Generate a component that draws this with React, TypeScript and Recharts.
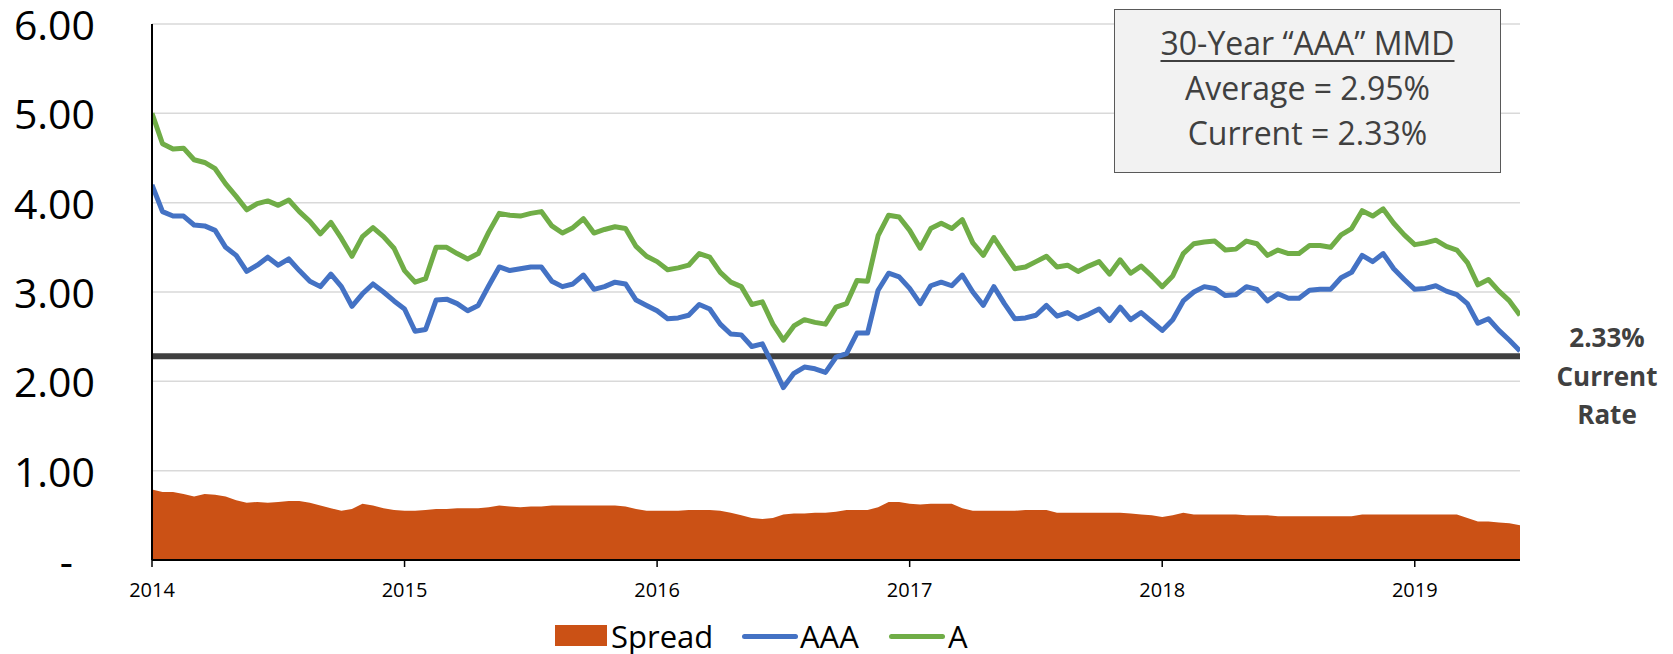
import React from "react";
import {
  ComposedChart,
  Area,
  Line,
  XAxis,
  YAxis,
  CartesianGrid,
  ReferenceLine,
} from "recharts";

// semi-monthly readings, Jan 2014 -> early Jun 2019
const aaaYields = [
  4.2, 3.9, 3.85, 3.85, 3.75, 3.74, 3.69, 3.5, 3.41, 3.23, 3.3, 3.39, 3.3, 3.37, 3.24, 3.12, 3.06, 3.2, 3.06, 2.84,
  2.98, 3.09, 3.0, 2.9, 2.81, 2.56, 2.58, 2.91, 2.92, 2.87, 2.79, 2.85, 3.07, 3.28, 3.24, 3.26, 3.28, 3.28, 3.12, 3.06,
  3.09, 3.19, 3.03, 3.06, 3.11, 3.09, 2.91, 2.85, 2.79, 2.7, 2.71, 2.74, 2.86, 2.81, 2.64, 2.53, 2.52, 2.39, 2.42, 2.18,
  1.93, 2.09, 2.16, 2.14, 2.1, 2.27, 2.31, 2.54, 2.54, 3.02, 3.21, 3.17, 3.04, 2.87, 3.07, 3.11, 3.07, 3.19, 3.0, 2.85,
  3.06, 2.87, 2.7, 2.71, 2.74, 2.85, 2.73, 2.77, 2.7, 2.75, 2.81, 2.68, 2.83, 2.69, 2.77, 2.67, 2.57, 2.69, 2.9, 3.0,
  3.06, 3.04, 2.96, 2.97, 3.06, 3.03, 2.9, 2.98, 2.93, 2.93, 3.02, 3.03, 3.03, 3.16, 3.22, 3.41, 3.34, 3.43, 3.26, 3.14,
  3.03, 3.04, 3.07, 3.01, 2.97, 2.87, 2.65, 2.7, 2.57, 2.46, 2.34,
];

const aYields = [
  5.0, 4.66, 4.6, 4.61, 4.48, 4.45, 4.38, 4.21, 4.07, 3.92, 3.99, 4.02, 3.97, 4.03, 3.9, 3.79, 3.65, 3.78, 3.6, 3.4,
  3.62, 3.72, 3.62, 3.49, 3.24, 3.11, 3.15, 3.5, 3.5, 3.43, 3.37, 3.43, 3.67, 3.88, 3.86, 3.85, 3.88, 3.9, 3.74, 3.66,
  3.72, 3.82, 3.66, 3.7, 3.73, 3.71, 3.51, 3.4, 3.34, 3.25, 3.27, 3.3, 3.43, 3.39, 3.22, 3.11, 3.06, 2.86, 2.89, 2.64,
  2.46, 2.62, 2.69, 2.66, 2.64, 2.83, 2.87, 3.13, 3.12, 3.63, 3.86, 3.84, 3.69, 3.49, 3.71, 3.77, 3.71, 3.81, 3.55, 3.41,
  3.61, 3.43, 3.26, 3.28, 3.34, 3.4, 3.28, 3.3, 3.23, 3.29, 3.34, 3.2, 3.36, 3.21, 3.29, 3.18, 3.06, 3.18, 3.43, 3.54,
  3.56, 3.57, 3.47, 3.48, 3.57, 3.54, 3.41, 3.47, 3.43, 3.43, 3.52, 3.52, 3.5, 3.64, 3.71, 3.91, 3.85, 3.93, 3.77, 3.64,
  3.53, 3.55, 3.58, 3.51, 3.47, 3.33, 3.08, 3.14, 3.01, 2.9, 2.74,
];

const spreadValues = [
  0.79, 0.76, 0.76, 0.74, 0.71, 0.74, 0.73, 0.71, 0.67, 0.64, 0.65, 0.64, 0.65, 0.66, 0.66, 0.64, 0.61, 0.58, 0.55, 0.57,
  0.63, 0.61, 0.58, 0.56, 0.55, 0.55, 0.56, 0.57, 0.57, 0.58, 0.58, 0.58, 0.59, 0.61, 0.6, 0.59, 0.6, 0.6, 0.61, 0.61,
  0.61, 0.61, 0.61, 0.61, 0.61, 0.6, 0.57, 0.55, 0.55, 0.55, 0.55, 0.56, 0.56, 0.56, 0.55, 0.53, 0.5, 0.47, 0.46, 0.47,
  0.51, 0.52, 0.52, 0.53, 0.53, 0.54, 0.56, 0.56, 0.56, 0.59, 0.65, 0.65, 0.63, 0.62, 0.63, 0.63, 0.63, 0.58, 0.55, 0.55,
  0.55, 0.55, 0.55, 0.56, 0.56, 0.56, 0.53, 0.53, 0.53, 0.53, 0.53, 0.53, 0.53, 0.52, 0.51, 0.5, 0.48, 0.5, 0.53, 0.51,
  0.51, 0.51, 0.51, 0.51, 0.5, 0.5, 0.5, 0.49, 0.49, 0.49, 0.49, 0.49, 0.49, 0.49, 0.49, 0.51, 0.51, 0.51, 0.51, 0.51,
  0.51, 0.51, 0.51, 0.51, 0.51, 0.47, 0.43, 0.43, 0.42, 0.41, 0.39,
];

const yearTicks = [2014, 2015, 2016, 2017, 2018, 2019];
const rateTicks = [0, 1, 2, 3, 4, 5, 6];
const currentRateLine = 2.28;

const startYear = 2014;
const stepsPerYear = 24;

const data = aaaYields.map((v, i) => ({
  t: startYear + i / stepsPerYear,
  aaa: v,
  a: aYields[i],
  spread: spreadValues[i],
}));
const endT = data[data.length - 1].t;

const FONT = "'Open Sans', sans-serif";

const YTick = (props: any) => {
  const { x, y, payload } = props;
  const isZero = payload.value === 0;
  return (
    <text
      x={isZero ? x - 22 : x}
      y={y}
      textAnchor="end"
      dominantBaseline="central"
      fontSize={41}
      fontFamily={FONT}
      fill="#000"
    >
      {isZero ? "-" : payload.value.toFixed(2)}
    </text>
  );
};

export default function App() {
  return (
    <div
      style={{
        position: "absolute",
        left: 0,
        top: 0,
        width: 1673,
        height: 654,
        background: "#fff",
        fontFamily: FONT,
      }}
    >
      <ComposedChart
        width={1673}
        height={654}
        data={data}
        margin={{ top: 24, right: 153, bottom: 0, left: 0 }}
        style={{ overflow: "visible" }}
      >
        <CartesianGrid vertical={false} stroke="#d9d9d9" strokeWidth={1.5} />
        <XAxis
          type="number"
          dataKey="t"
          domain={[startYear, endT]}
          ticks={yearTicks}
          tickFormatter={(v) => String(v)}
          height={94}
          axisLine={{ stroke: "#000", strokeWidth: 2 }}
          tickLine={{ stroke: "#000", strokeWidth: 1.5 }}
          tickSize={7}
          tickMargin={16}
          tick={{ fontSize: 20, fill: "#000", fontFamily: FONT }}
          allowDataOverflow
        />
        <YAxis
          domain={[0, 6]}
          ticks={rateTicks}
          width={152}
          axisLine={{ stroke: "#000", strokeWidth: 2 }}
          tickLine={false}
          tickSize={0}
          tickMargin={57}
          tick={<YTick />}
        />
        <Area
          type="linear"
          dataKey="spread"
          name="Spread"
          fill="#cb5115"
          fillOpacity={1}
          stroke="none"
          isAnimationActive={false}
        />
        <ReferenceLine y={currentRateLine} stroke="#404040" strokeWidth={6} />
        <Line
          type="linear"
          dataKey="aaa"
          name="AAA"
          stroke="#4472c4"
          strokeWidth={5}
          strokeLinejoin="round"
          dot={false}
          isAnimationActive={false}
        />
        <Line
          type="linear"
          dataKey="a"
          name="A"
          stroke="#70ad47"
          strokeWidth={5}
          strokeLinejoin="round"
          dot={false}
          isAnimationActive={false}
        />
      </ComposedChart>

      {/* summary box */}
      <div
        style={{
          position: "absolute",
          left: 1114,
          top: 9,
          width: 385,
          height: 152,
          background: "#f2f2f2",
          border: "1.5px solid #595959",
          color: "#404040",
          fontSize: 32,
          lineHeight: "45px",
          textAlign: "center",
          paddingTop: 10,
          boxSizing: "content-box",
        }}
      >
        <div style={{ textDecoration: "underline", textDecorationThickness: 2, textUnderlineOffset: 5 }}>
          30-Year “AAA” MMD
        </div>
        <div>Average = 2.95%</div>
        <div>Current = 2.33%</div>
      </div>

      {/* current rate note */}
      <div
        style={{
          position: "absolute",
          left: 1547,
          top: 318,
          width: 120,
          textAlign: "center",
          color: "#404040",
          fontWeight: 700,
          fontSize: 26,
          lineHeight: "38.5px",
        }}
      >
        <div>2.33%</div>
        <div>Current</div>
        <div>Rate</div>
      </div>

      {/* legend */}
      <div style={{ position: "absolute", left: 555, top: 625, width: 52, height: 21, background: "#cb5115" }} />
      <div style={{ position: "absolute", left: 611, top: 614, fontSize: 31, lineHeight: "44px", color: "#000" }}>
        Spread
      </div>
      <div
        style={{ position: "absolute", left: 742, top: 634, width: 56, height: 5, borderRadius: 3, background: "#4472c4" }}
      />
      <div style={{ position: "absolute", left: 800, top: 614, fontSize: 31, lineHeight: "44px", color: "#000" }}>
        AAA
      </div>
      <div
        style={{ position: "absolute", left: 889, top: 634, width: 56, height: 5, borderRadius: 3, background: "#70ad47" }}
      />
      <div style={{ position: "absolute", left: 948, top: 614, fontSize: 31, lineHeight: "44px", color: "#000" }}>
        A
      </div>
    </div>
  );
}
